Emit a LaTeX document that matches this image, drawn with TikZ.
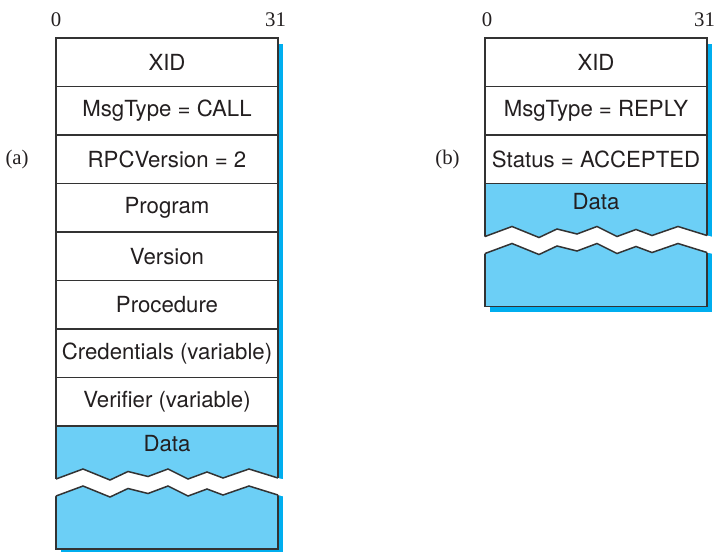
\documentclass[tikz,border=0pt]{standalone}
\usepackage{fontspec}
\setmainfont{Liberation Serif}
\setsansfont{TeX Gyre Heros}
\usetikzlibrary{positioning, calc, backgrounds}

\definecolor{datablue}{HTML}{6CCFF6}
\definecolor{shadeblue}{HTML}{00AEEF}
\definecolor{inkgray}{HTML}{333333}
\definecolor{textgray}{HTML}{231F20}

% torn-off gap across a data field; #1 = west end of the upper zigzag
\newcommand{\breakmark}[1]{%
  \fill[white, shift={(#1)}] (-2,0) -- (0,0) -- (27,-10) -- (54,1) -- (72,-7.5) -- (92,-2.5)
      -- (112,-10) -- (132,0) -- (151,-7) -- (167,-1) -- (193,-10) -- (222,-1) -- (230,1)
      -- (230,18) -- (222,16) -- (193,7) -- (167,16) -- (151,10) -- (132,17) -- (112,7)
      -- (92,14.5) -- (72,9.5) -- (54,18) -- (27,7) -- (0,17) -- (-2,17) -- cycle;
  \draw[edge, shift={(#1)}] (0,0) -- (27,-10) -- (54,1) -- (72,-7.5) -- (92,-2.5) -- (112,-10)
      -- (132,0) -- (151,-7) -- (167,-1) -- (193,-10) -- (222,-1);
  \draw[edge, shift={(#1)}] (0,17) -- (27,7) -- (54,18) -- (72,9.5) -- (92,14.5) -- (112,7)
      -- (132,17) -- (151,10) -- (167,16) -- (193,7) -- (222,16);
}

\begin{document}
\begin{tikzpicture}[
    x=0.5pt, y=-0.5pt,
    node distance=0pt,
    field/.style={draw=inkgray, fill=white, line width=0.75pt, minimum width=111pt,
                  minimum height=24.25pt, inner sep=0pt, outer sep=0pt, text=textgray,
                  font=\sffamily\fontsize{11.1}{12}\selectfont},
    datafield/.style={field, fill=datablue, minimum height=61.5pt},
    datalabel/.style={inner sep=0pt, text=textgray, font=\sffamily\fontsize{11.1}{12}\selectfont},
    bitnum/.style={inner sep=0pt, text=textgray, font=\rmfamily\fontsize{10.4}{12}\selectfont},
    tag/.style={bitnum},
    edge/.style={draw=inkgray, line width=0.75pt, line join=miter},
]
\useasboundingbox (0,0) rectangle (715,551);

% (a) call message
\node[field, anchor=north west] (a1) at (56,38) {XID};
\node[field, below=of a1] (a2) {MsgType = CALL};
\node[field, below=of a2] (a3) {RPCVersion = 2};
\node[field, below=of a3] (a4) {Program};
\node[field, below=of a4] (a5) {Version};
\node[field, below=of a5] (a6) {Procedure};
\node[field, below=of a6] (a7) {Credentials (variable)};
\node[field, below=of a7] (a8) {Verifier (variable)};
\node[datafield, below=of a8] (adata) {};

\node[tag, left=13.5pt of a3] (atag) {(a)};
\node[bitnum, anchor=base] (alo) at ($(a1.north west)+(0,-11.5)$) {0};
\node[bitnum, anchor=base] (ahi) at ($(a1.north east)+(-2.5,-11.5)$) {31};

% (b) reply message
\node[field, anchor=north west] (b1) at (485,38) {XID};
\node[field, below=of b1] (b2) {MsgType = REPLY};
\node[field, below=of b2] (b3) {Status = ACCEPTED};
\node[datafield, below=of b3] (bdata) {};

\node[tag, left=12.5pt of b3] (btag) {(b)};
\node[bitnum, anchor=base] (blo) at ($(b1.north west)+(2,-11.5)$) {0};
\node[bitnum, anchor=base] (bhi) at ($(b1.north east)+(-2.5,-11.5)$) {31};

% breaks in the data fields
\coordinate (abrk) at ($(adata.north west)+(0,53)$);
\coordinate (bbrk) at ($(bdata.north west)+(0,53)$);
\breakmark{abrk}
\breakmark{bbrk}

\node[datalabel] (adlabel) at ($(adata.north)+(0,18)$) {Data};
\node[datalabel] (bdlabel) at ($(bdata.north)+(0,18)$) {Data};

\begin{scope}[on background layer]
    \fill[shadeblue] ($(a1.north west)+(5,6)$) rectangle ($(adata.south east)+(5,5)$);
    \fill[shadeblue] ($(b1.north west)+(5,6)$) rectangle ($(bdata.south east)+(5,5)$);
\end{scope}

\end{tikzpicture}
\end{document}
